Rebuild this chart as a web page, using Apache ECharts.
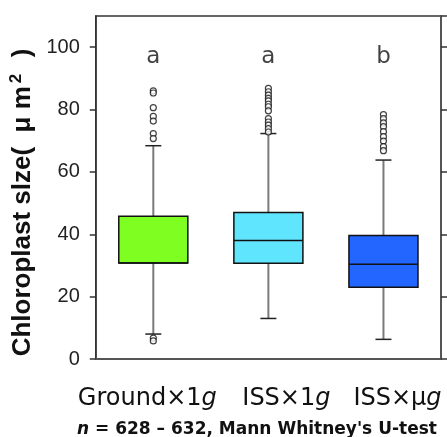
<!DOCTYPE html>
<html>
<head>
<meta charset="utf-8">
<script src="https://cdn.jsdelivr.net/npm/echarts@6/dist/echarts.min.js"></script>
<style>
  html, body { margin: 0; padding: 0; background: #fff; }
  #chart { width: 447px; height: 437px; }
</style>
</head>
<body>
<div id="chart"></div>
<script>
// 分组名称
var categories = ['Ground×1', 'ISS×1', 'ISS×μ'];
// 箱线图统计量
var lowWhisker = [8.0, 13.0, 6.3];
var q1 = [30.8, 30.7, 23.0];
var median = [30.8, 38.0, 30.4];
var q3 = [45.8, 47.0, 39.6];
var highWhisker = [68.4, 72.3, 63.8];
// 离群点
var outGround = [86.0, 85.3, 80.6, 77.8, 76.3, 72.3, 70.7, 6.7, 5.8];
var outIss1g = [86.8, 85.7, 84.6, 83.6, 82.8, 81.7, 80.9, 79.6, 77.1, 76.0, 75.0, 73.9, 72.8];
var outIssUg = [78.4, 77.1, 75.7, 74.5, 72.9, 71.3, 69.9, 68.1, 66.8];
// 显著性字母
var letters = ['a', 'a', 'b'];
var letterLevel = [97, 97, 97];
var yTicks = [0, 20, 40, 60, 80, 100];

// 样式
var boxColors = ['#7fff21', '#60e5ff', '#2266ff'];
var labelShift = [-6, 18, 14];

var myChart = echarts.init(document.getElementById('chart'));

var boxData = categories.map(function (c, i) {
    return [i, lowWhisker[i], q1[i], median[i], q3[i], highWhisker[i]];
});
var outlierData = [];
[outGround, outIss1g, outIssUg].forEach(function (arr, i) {
    arr.forEach(function (v) { outlierData.push([i, v]); });
});
var letterData = letters.map(function (l, i) { return [i, letterLevel[i], l]; });

function renderBox(params, api) {
    var i = api.value(0);
    var bw = api.size([1, 0])[0] * 0.3;
    var capW = 8;
    var pLow = api.coord([i, api.value(1)]);
    var pQ1 = api.coord([i, api.value(2)]);
    var pMed = api.coord([i, api.value(3)]);
    var pQ3 = api.coord([i, api.value(4)]);
    var pHigh = api.coord([i, api.value(5)]);
    var x = pQ1[0];
    return {
        type: 'group',
        children: [
            {type: 'line', shape: {x1: x, y1: pHigh[1], x2: x, y2: pLow[1]},
             style: {stroke: '#7a7a7a', lineWidth: 2}},
            {type: 'line', shape: {x1: x - capW, y1: pHigh[1], x2: x + capW, y2: pHigh[1]},
             style: {stroke: '#222', lineWidth: 1.5}},
            {type: 'line', shape: {x1: x - capW, y1: pLow[1], x2: x + capW, y2: pLow[1]},
             style: {stroke: '#222', lineWidth: 1.5}},
            {type: 'rect', shape: {x: x - bw, y: pQ3[1], width: bw * 2, height: pQ1[1] - pQ3[1]},
             style: {fill: boxColors[i], stroke: '#111', lineWidth: 1.5}},
            {type: 'line', shape: {x1: x - bw, y1: pMed[1], x2: x + bw, y2: pMed[1]},
             style: {stroke: '#111', lineWidth: 1.5}}
        ]
    };
}

var yAxisBase = {
    type: 'value',
    min: 0,
    max: 110,
    interval: 20,
    splitLine: {show: false},
    axisTick: {show: true, inside: false, length: 6, lineStyle: {color: '#333', width: 1.5}}
};

var nameFont = {fontFamily: 'Liberation Sans', fontSize: 26, fontWeight: 'bold', color: '#111'};

myChart.setOption({
    animation: false,
    grid: {
        left: 95, right: 6, top: 16, bottom: 78,
        show: true, borderColor: '#333', borderWidth: 1.5
    },
    title: {
        text: '{n|n} = 628 – 632, Mann Whitney\'s U-test',
        left: 72, top: 416,
        textStyle: {
            fontFamily: 'DejaVu Sans', fontSize: 17, fontWeight: 'bold', color: '#111',
            rich: {
                n: {fontFamily: 'DejaVu Sans', fontSize: 17, fontWeight: 'bold', fontStyle: 'italic', color: '#111'}
            }
        }
    },
    xAxis: {
        type: 'category',
        data: categories,
        boundaryGap: true,
        axisLine: {show: true, lineStyle: {color: '#555', width: 2}},
        axisTick: {show: false},
        axisLabel: {
            margin: 28,
            interval: 0,
            formatter: function (v, idx) {
                var s = labelShift[idx];
                var pad = s >= 0 ? '{p' + idx + '|}' : '';
                return pad + '{a|' + v + '}{i|g}' + (s < 0 ? '{p' + idx + '|}' : '');
            },
            rich: {
                a: {fontFamily: 'DejaVu Sans', fontSize: 24, color: '#111'},
                i: {fontFamily: 'DejaVu Sans', fontSize: 24, fontStyle: 'italic', color: '#111'},
                p0: {width: Math.abs(labelShift[0]) * 2},
                p1: {width: Math.abs(labelShift[1]) * 2},
                p2: {width: Math.abs(labelShift[2]) * 2}
            }
        }
    },
    yAxis: [
        Object.assign({}, yAxisBase, {
            position: 'left',
            name: '{a|Chloroplast slze(  μ m}{s|2}{a|  )}',
            nameLocation: 'middle',
            nameGap: 47,
            nameTextStyle: Object.assign({}, nameFont, {
                padding: [0, 30, 0, 0],
                rich: {
                    a: nameFont,
                    s: Object.assign({}, nameFont, {fontSize: 17, padding: [0, 2, 12, 3]})
                }
            }),
            axisLine: {show: true, lineStyle: {color: '#333', width: 1.5}},
            axisLabel: {
                fontFamily: 'Liberation Sans', fontSize: 20, color: '#222', margin: 16,
                showMaxLabel: false,
                formatter: function (v) { return yTicks.indexOf(v) >= 0 ? String(v) : ''; }
            }
        }),
        Object.assign({}, yAxisBase, {
            position: 'right',
            axisLine: {show: true, lineStyle: {color: '#555', width: 2}},
            axisLabel: {show: false}
        })
    ],
    series: [
        {
            type: 'custom',
            renderItem: renderBox,
            encode: {x: 0, y: [1, 2, 3, 4, 5]},
            data: boxData,
            z: 2
        },
        {
            type: 'scatter',
            data: outlierData,
            symbol: 'circle',
            symbolSize: 6,
            itemStyle: {color: '#fff', borderColor: '#111', borderWidth: 1.2},
            z: 3
        },
        {
            type: 'scatter',
            data: letterData,
            symbolSize: 0,
            label: {
                show: true,
                position: 'inside',
                formatter: function (p) { return p.data[2]; },
                fontFamily: 'DejaVu Sans', fontSize: 23, color: '#111'
            },
            z: 4
        }
    ]
});
</script>
</body>
</html>
